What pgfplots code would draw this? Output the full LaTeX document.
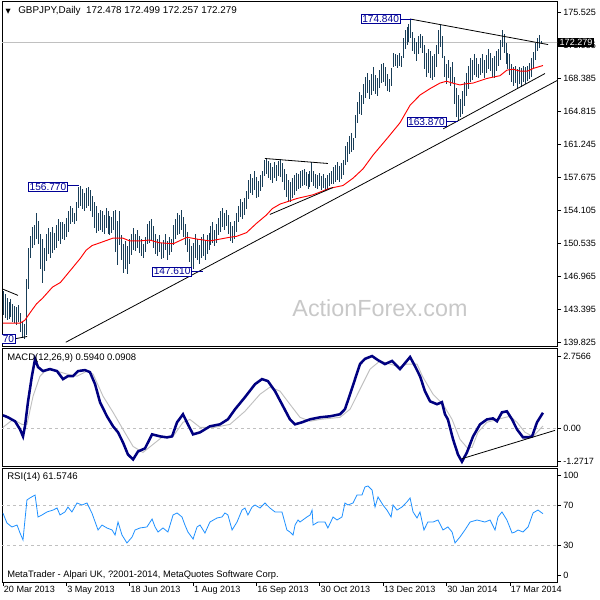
\documentclass[border=0pt]{standalone}
\usepackage{pgfplots}
\usepackage{pgfplotstable}
\pgfplotsset{compat=1.18}
\usepackage{fontspec}
\setmainfont{Liberation Sans}
\newfontfamily\symfont{DejaVu Sans}
\definecolor{barcol}{RGB}{25,62,88}
\definecolor{navyc}{RGB}{0,0,128}
\definecolor{lblue}{RGB}{30,144,255}
\definecolor{silverc}{RGB}{192,192,192}
\definecolor{lblcol}{RGB}{0,0,150}
\definecolor{wmark}{RGB}{200,200,200}

\pgfplotstableread{
i h l
0 145.4 142.8
1 145.0 142.5
2 144.6 142.2
3 144.2 142.3
4 144.5 142.6
5 144.0 142.0
6 143.8 141.9
7 143.6 141.7
8 143.9 142.0
9 143.0 140.9
10 142.0 140.3
11 141.8 140.2
12 146.7 140.6
13 150.0 145.6
14 151.3 149.0
15 152.3 150.0
16 152.5 150.4
17 153.8 151.0
18 153.0 150.5
19 151.5 147.8
20 151.0 146.2
21 150.0 147.5
22 151.5 148.6
23 152.2 149.4
24 151.8 149.0
25 152.3 149.5
26 151.7 149.8
27 152.5 150.0
28 153.2 150.8
29 152.8 150.5
30 152.9 151.0
31 152.6 150.9
32 153.3 151.2
33 154.0 151.8
34 154.6 152.6
35 154.4 152.8
36 153.8 152.6
37 155.0 153.0
38 156.6 154.4
39 156.77 154.6
40 156.4 154.3
41 156.0 154.0
42 156.5 154.4
43 156.6 154.6
44 156.3 154.0
45 155.7 153.4
46 155.0 152.2
47 154.6 151.7
48 153.8 151.9
49 154.2 152.0
50 154.0 151.8
51 153.6 151.6
52 154.4 152.2
53 154.0 151.5
54 153.5 151.4
55 153.4 151.7
56 154.0 152.0
57 154.1 149.6
58 153.0 148.2
59 154.0 150.4
60 151.4 148.7
61 150.5 147.3
62 150.8 147.8
63 150.2 147.2
64 151.0 148.3
65 151.6 149.3
66 152.2 149.8
67 151.6 149.7
68 152.0 150.0
69 151.3 149.5
70 151.0 149.2
71 150.5 148.9
72 151.2 149.6
73 152.6 150.5
74 153.0 150.6
75 153.2 150.8
76 152.4 150.0
77 151.5 149.4
78 151.0 149.2
79 151.4 149.6
80 150.6 148.8
81 150.9 149.0
82 151.6 149.8
83 150.8 148.7
84 151.2 149.3
85 151.0 149.6
86 152.5 150.4
87 153.2 151.0
88 153.8 151.4
89 153.6 151.6
90 154.1 152.0
91 153.4 151.2
92 152.6 150.4
93 151.8 149.6
94 151.0 148.5
95 150.2 147.61
96 150.6 147.8
97 151.5 149.0
98 151.0 148.7
99 150.4 148.3
100 151.2 149.0
101 151.6 149.2
102 150.9 148.7
103 151.4 149.4
104 151.7 149.8
105 152.4 150.4
106 152.8 150.6
107 152.0 150.2
108 152.6 150.6
109 153.3 151.4
110 154.0 151.8
111 154.4 152.3
112 153.8 152.0
113 154.2 152.4
114 153.6 151.6
115 152.8 150.8
116 152.4 150.6
117 153.0 151.0
118 153.8 151.8
119 154.6 152.9
120 155.3 153.4
121 155.0 153.2
122 155.5 153.6
123 156.2 154.3
124 157.4 155.3
125 158.0 156.0
126 157.6 155.8
127 158.4 156.3
128 157.7 155.5
129 157.3 155.6
130 157.9 156.2
131 158.4 156.6
132 159.6 157.8
133 159.8 158.0
134 159.5 157.6
135 159.2 157.4
136 158.8 157.1
137 159.3 157.6
138 159.0 157.3
139 159.5 157.8
140 159.7 157.7
141 159.2 157.2
142 158.6 156.3
143 158.0 155.6
144 157.4 155.0
145 157.2 155.0
146 157.6 155.4
147 157.9 155.8
148 158.2 156.2
149 158.0 156.4
150 158.4 156.5
151 158.5 156.8
152 158.6 156.9
153 158.3 156.7
154 158.0 156.4
155 158.4 156.6
156 159.3 157.2
157 158.4 156.8
158 158.1 156.5
159 157.9 156.4
160 158.2 156.7
161 157.8 156.3
162 158.0 156.5
163 157.6 156.2
164 157.9 156.4
165 158.2 156.7
166 158.4 157.0
167 158.8 157.0
168 159.0 157.2
169 159.3 157.4
170 158.9 157.2
171 159.2 157.5
172 159.6 157.9
173 161.1 159.0
174 161.5 159.4
175 162.2 160.2
176 162.5 160.4
177 162.0 160.6
178 164.4 162.0
179 165.8 163.6
180 166.9 164.5
181 166.6 164.4
182 167.8 165.6
183 168.6 166.3
184 169.0 166.8
185 168.2 166.2
186 168.9 166.6
187 169.6 167.0
188 168.8 166.7
189 168.4 166.5
190 169.3 167.4
191 170.0 167.9
192 170.1 168.0
193 169.6 167.6
194 168.9 167.0
195 168.3 166.9
196 169.5 167.6
197 171.2 169.6
198 171.1 169.7
199 170.9 169.5
200 171.2 169.8
201 170.8 169.6
202 172.8 170.6
203 173.6 171.6
204 174.0 172.0
205 174.3 172.4
206 174.84 172.8
207 173.4 171.4
208 172.8 171.0
209 172.4 170.3
210 173.0 171.0
211 173.2 171.7
212 173.0 171.2
213 172.0 169.4
214 171.2 168.6
215 171.6 169.0
216 171.4 168.4
217 170.8 168.2
218 171.0 168.6
219 172.0 169.6
220 173.6 171.0
221 174.2 171.8
222 173.0 170.6
223 170.8 168.6
224 170.0 167.8
225 170.4 168.4
226 169.6 167.6
227 170.2 167.9
228 168.6 165.6
229 167.4 164.2
230 166.6 163.87
231 166.2 164.2
232 167.0 164.6
233 168.0 165.4
234 169.0 166.5
235 169.8 167.3
236 170.6 168.0
237 170.4 168.2
238 171.1 168.8
239 170.6 168.6
240 170.0 168.4
241 170.6 168.8
242 171.0 169.0
243 170.4 168.5
244 170.9 169.0
245 171.6 169.4
246 171.2 169.2
247 170.6 168.6
248 170.8 168.4
249 171.4 169.2
250 171.6 169.8
251 172.6 170.4
252 173.6 171.8
253 173.2 171.2
254 172.2 170.0
255 171.2 169.4
256 171.0 168.8
257 170.0 168.0
258 169.6 167.6
259 169.8 167.9
260 169.4 167.4
261 169.6 167.8
262 169.5 167.5
263 169.8 168.0
264 169.6 167.8
265 169.8 168.1
266 170.1 168.3
267 170.6 168.6
268 171.3 169.5
269 172.2 170.4
270 172.8 171.4
271 173.1 171.7
272 172.499 172.257
}\bars

\pgfplotstableread{
i v
0 141.9
8.6 141.9
11 142.2
14.6 143.3
17 144.0
20 144.6
25 145.8
29 146.3
34 147.6
39 148.9
42 149.8
45 150.3
49 150.6
55.5 151.1
60.6 151.1
64 150.8
69 150.8
74 150.9
79 150.6
86 150.5
93 151.2
98 151.0
104.5 150.8
109.6 151.0
114.6 151.2
118 151.3
123 151.7
128 152.7
133 153.6
136 154.3
140 154.8
148.5 155.4
156.6 155.8
165 156.5
171.7 156.8
176.8 157.6
181.8 158.6
186.9 160.1
194 161.9
200.5 163.6
205.6 165.5
210.6 166.6
215.7 167.3
220.7 167.9
224 168.1
227 167.9
230.8 167.7
233 167.8
237.4 167.9
244.4 168.4
251 168.7
254.5 169.3
257.6 169.4
261 169.2
265 169.2
268 169.5
272.7 169.8
}\ma

\pgfplotstableread{
i v
0 0.498
2.5 0.421
6.1 0.268
8.6 -0.038
10.1 -0.306
11.1 0.077
12.6 0.996
14.6 1.992
16.2 2.643
17.7 2.336
20.2 2.183
23.7 2.260
27.3 2.183
30.3 1.877
32.8 1.992
35.4 1.992
37.9 2.183
41.4 2.221
43.9 2.145
46.5 1.685
49.0 0.996
52.5 0.460
55.6 0.077
58.1 -0.153
60.6 -0.536
63.1 -0.996
65.7 -1.187
68.2 -0.881
71.7 -0.766
75.3 -0.230
79.3 -0.306
82.8 -0.345
85.4 -0.306
87.9 0.230
90.9 0.536
93.4 0.153
96.0 -0.230
99.5 -0.153
104.5 0.077
109.6 0.153
113.6 0.345
117.2 0.728
122.2 1.187
127.3 1.685
130.8 1.877
133.8 1.800
137.4 1.417
140.9 0.919
144.9 0.345
147.5 0.153
151.0 0.230
155.1 0.345
160.1 0.421
165.2 0.460
170.2 0.536
172.7 0.728
175.3 1.302
177.8 1.877
180.3 2.451
182.8 2.650
186.4 2.7566
189.4 2.60
192.9 2.45
196.5 2.57
200.5 2.26
205.6 2.72
208.1 2.37
210.6 1.99
213.1 1.42
215.7 1.03
219.2 0.92
221.7 1.00
223.2 0.54
224.7 0.34
227.3 -0.42
229.8 -1.00
231.8 -1.2717
234.3 -0.92
237.4 -0.31
240.9 0.15
244.4 0.34
247.5 0.38
249.5 0.27
252.0 0.61
254.5 0.65
257.1 0.34
259.6 -0.04
262.6 -0.34
265.2 -0.34
267.2 -0.31
269.7 0.23
272.7 0.594
}\macd

\pgfplotstableread{
i v
0 0.04
5.1 0.34
9.6 0.15
12.1 0.15
15.2 1.23
18.7 1.99
22.2 2.26
27.3 2.18
32.3 2.07
37.4 1.99
42.4 2.18
45.5 2.07
50.5 1.23
55.6 0.61
60.6 -0.04
65.7 -0.69
70.7 -0.92
75.8 -0.61
80.8 -0.31
85.9 -0.31
90.9 0.23
94.4 0.34
99.5 0.04
107.1 0.04
114.6 0.15
122.2 0.65
129.8 1.30
134.8 1.57
139.9 1.42
144.9 0.92
150.0 0.42
155.1 0.27
160.1 0.34
170.2 0.42
175.3 0.73
180.3 1.49
185.4 2.26
190.4 2.57
195.5 2.45
200.5 2.34
204.0 2.45
209.1 2.45
212.1 1.95
217.2 1.30
222.2 0.92
226.8 0.34
230.8 -0.42
234.3 -0.73
236.9 -0.73
239.9 -0.15
244.4 0.23
249.5 0.34
256.1 0.46
259.6 0.23
263.6 -0.15
267.7 -0.31
272.7 0.0908
}\signal

\pgfplotstableread{
i v
0 62.0
2.0 52.3
4.5 48.4
7.1 50.3
8.6 42.4
10.1 35.5
12.1 75.2
13.6 77.2
16.2 80.1
17.7 58.3
19.7 60.3
22.2 63.3
25.3 65.2
27.3 67.2
28.8 60.3
31.3 63.3
32.8 68.2
34.8 63.3
37.4 72.2
39.9 70.2
42.4 72.2
44.9 62.3
48.0 45.4
50.0 50.3
52.5 47.4
55.1 45.4
56.6 40.4
58.1 53.3
60.1 40.4
62.6 32.5
65.2 38.4
66.7 45.4
69.2 47.4
72.7 48.4
75.3 56.3
76.8 48.4
78.3 43.4
80.8 47.4
83.3 43.4
85.9 60.3
87.9 62.3
90.4 58.3
91.9 50.3
93.4 43.4
96.0 36.4
98.0 48.4
99.5 50.3
102.0 42.4
104.5 53.3
108.1 57.3
110.6 58.3
112.1 62.3
113.6 60.3
115.7 45.4
118.2 53.3
120.7 65.2
122.2 67.2
123.7 60.3
125.8 68.2
127.3 70.2
129.8 67.2
132.3 72.2
134.8 67.2
137.4 63.3
140.9 63.3
143.4 45.4
144.9 43.4
146.5 40.4
147.5 50.3
149.0 55.3
150.0 53.3
153.5 58.3
155.1 60.3
156.1 65.2
156.6 50.3
159.1 53.3
162.6 53.3
164.1 47.4
166.7 58.3
168.7 55.3
171.2 58.3
172.7 72.2
174.2 70.2
176.8 72.2
178.8 80.1
181.3 80.1
182.8 88.1
184.3 89.1
186.4 85.1
187.9 68.2
189.4 78.2
191.9 70.2
193.9 65.2
196.0 58.3
197.0 70.2
199.0 65.2
201.5 68.2
204.0 73.2
205.6 77.2
207.1 63.3
209.1 57.3
210.6 63.3
212.6 45.4
214.6 53.3
217.2 53.3
219.7 55.3
222.2 45.4
224.7 48.4
226.8 43.4
228.3 32.5
230.8 38.4
233.3 45.4
235.9 53.3
239.4 55.3
243.4 53.3
246.0 55.3
248.5 45.4
250.0 58.3
252.0 63.3
254.5 55.3
257.1 42.4
258.6 43.4
260.1 45.4
262.6 43.4
265.2 48.4
267.7 62.3
270.2 65.2
272.7 61.57
}\rsi

\pgfplotsset{
  mtpanel/.style={
    scale only axis, width=416.25pt, anchor=south west,
    xmin=-0.5, xmax=279.8,
    axis line style={black, line width=0.6pt},
    tick align=outside, major tick length=3pt,
    tick style={black, line width=0.5pt},
    ytick pos=right, yticklabel pos=right,
    xtick pos=bottom,
    yticklabel style={font=\fontsize{6.8}{8}\selectfont, anchor=west, inner sep=0pt, xshift=1.5pt},
    /pgf/number format/assume math mode=true,
  },
}
\tikzset{
  pricelbl/.style={draw=lblcol, line width=0.5pt, fill=white, text=lblcol, font=\fontsize{7.6}{9}\selectfont, inner sep=0.8pt},
}

\begin{document}
\begin{tikzpicture}
\path[use as bounding box] (0,0) rectangle (450pt,450pt);
\node[text=wmark, font=\fontsize{17.5}{20}\selectfont] at (285pt,219pt) {ActionForex.com};

% ---------------- price panel
\begin{axis}[mtpanel, at={(1.5pt,190.5pt)}, height=258.75pt,
  ymin=139.42, ymax=176.79, xtick=\empty,
  ytick={139.825,143.395,146.965,150.535,154.105,157.675,161.245,164.815,168.385,171.955,175.525},
  yticklabels={139.825,143.395,146.965,150.535,154.105,157.675,161.245,164.815,168.385,171.955,175.525},
]
\addplot[silverc, line width=0.6pt, forget plot] coordinates {(-1,172.279) (281,172.279)};
\addplot[draw=none, mark=none, forget plot,
  error bars/.cd, y dir=both, y explicit, error mark=none,
  error bar style={draw=barcol, solid, line width=0.62pt}]
  table[x=i, y expr=(\thisrow{h}+\thisrow{l})/2, y error expr=(\thisrow{h}-\thisrow{l})/2] {\bars};
\addplot[red, line width=0.7pt, forget plot] table[x=i, y=v] {\ma};
% trend lines
\draw[black, line width=0.6pt] (axis cs:31.7,139.825) -- (axis cs:279.8,168.17);
\draw[black, line width=0.6pt] (axis cs:222.4,162.95) -- (axis cs:273.7,168.93);
\draw[black, line width=0.6pt] (axis cs:205.6,174.84) -- (axis cs:275.3,172.07);
\draw[black, line width=0.6pt] (axis cs:132.3,159.73) -- (axis cs:164.1,159.19);
\draw[black, line width=0.6pt] (axis cs:134.8,153.67) -- (axis cs:166.7,156.59);
\draw[black, line width=0.6pt] (axis cs:-1,145.66) -- (axis cs:7.6,144.9);
\draw[black, line width=0.6pt] (axis cs:6,140.2) -- (axis cs:12.2,140.45);
% value labels
\draw[lblcol, line width=0.5pt] (axis cs:33,156.77) -- (axis cs:38.5,156.77);
\node[pricelbl] at (axis cs:22.7,156.64) {156.770};
\draw[lblcol, line width=0.5pt] (axis cs:95,147.47) -- (axis cs:101,147.47);
\node[pricelbl] at (axis cs:85.4,147.49) {147.610};
\draw[lblcol, line width=0.5pt] (axis cs:224,163.72) -- (axis cs:230,163.72);
\node[pricelbl] at (axis cs:213.9,163.69) {163.870};
\draw[lblcol, line width=0.5pt] (axis cs:201,174.84) -- (axis cs:206.6,174.84);
\node[pricelbl] at (axis cs:190.7,174.84) {174.840};
\node[pricelbl, anchor=east] at (axis cs:6.3,140.23) {70};
\coordinate (lastp) at (axis cs:279.8,172.279);
\end{axis}
\node[fill=black, text=white, anchor=west, inner xsep=1.2pt, inner ysep=1.2pt, font=\fontsize{6.8}{8}\selectfont] at ([xshift=0.6pt]lastp) {172.279};

% ---------------- MACD panel
\begin{axis}[mtpanel, at={(1.5pt,100.5pt)}, height=88.5pt,
  ymin=-1.436, ymax=3.064, xtick=\empty,
  ytick={-1.2717,0,2.7566}, yticklabels={-1.2717,0.00,2.7566},
]
\addplot[silverc, line width=0.6pt, dash pattern=on 2.25pt off 2.25pt, forget plot] coordinates {(-1,0) (281,0)};
\addplot[silverc, line width=0.7pt, forget plot] table[x=i, y=v] {\signal};
\addplot[navyc, line width=1.9pt, forget plot] table[x=i, y=v] {\macd};
\draw[black, line width=0.6pt] (axis cs:231.7,-1.16) -- (axis cs:278.8,-0.077);
\end{axis}
\node[anchor=west, font=\fontsize{7.1}{8}\selectfont, inner sep=0pt] at (5.25pt,181.5pt) {MACD(12,26,9) 0.5940 0.0908};

% ---------------- RSI panel
\begin{axis}[mtpanel, at={(1.5pt,13.5pt)}, height=85.5pt,
  ymin=-6.26, ymax=106.95,
  ytick={0,30,70,100}, yticklabels={0,30,70,100},
  xtick={0,32,64,96,128,160,192,224,256},
  xticklabels={20 Mar 2013,3 May 2013,18 Jun 2013,1 Aug 2013,16 Sep 2013,30 Oct 2013,13 Dec 2013,30 Jan 2014,17 Mar 2014},
  xticklabel style={font=\fontsize{6.8}{8}\selectfont, anchor=north west, inner sep=0pt, xshift=0.5pt, yshift=-0.3pt},
]
\addplot[silverc, line width=0.6pt, dash pattern=on 2.25pt off 2.25pt, forget plot] coordinates {(-1,70) (281,70)};
\addplot[silverc, line width=0.6pt, dash pattern=on 2.25pt off 2.25pt, forget plot] coordinates {(-1,30) (281,30)};
\addplot[lblue, line width=0.6pt, forget plot] table[x=i, y=v] {\rsi};
\end{axis}
\node[anchor=west, font=\fontsize{7.2}{8}\selectfont, inner sep=0pt] at (5.25pt,92.5pt) {RSI(14) 61.5746};
\node[anchor=west, font=\fontsize{7.0}{8}\selectfont, inner sep=0pt] at (5.25pt,18.75pt) {MetaTrader - Alpari UK, ?2001-2014, MetaQuotes Software Corp.};

% title
\node[anchor=center, font=\symfont\fontsize{5}{6}\selectfont, inner sep=0pt] at (6.2pt,441.5pt) {▼};
\node[anchor=west, font=\fontsize{7.4}{8}\selectfont, inner sep=0pt] at (13.5pt,441.75pt) {GBPJPY,Daily\ \ 172.478 172.499 172.257 172.279};
\end{tikzpicture}
\end{document}
